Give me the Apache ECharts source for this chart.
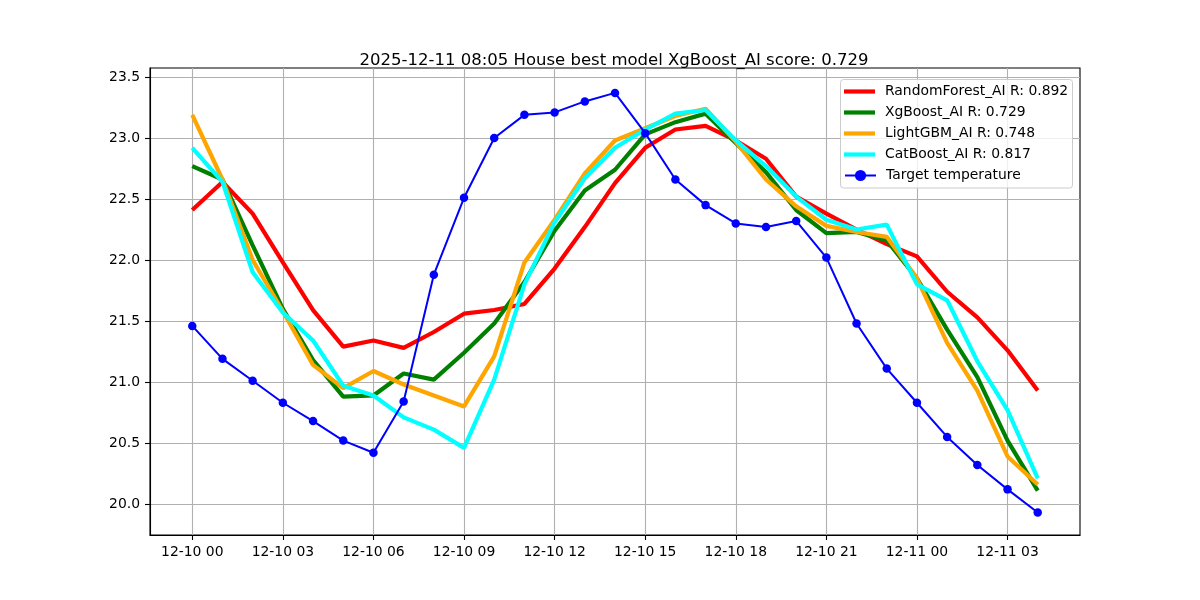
<!DOCTYPE html>
<html>
<head>
<meta charset="utf-8">
<script src="https://cdn.jsdelivr.net/npm/echarts@6/dist/echarts.min.js"></script>
<style>
html,body{margin:0;padding:0;background:#fff;}
#chart{width:1200px;height:600px;}
</style>
</head>
<body>
<div id="chart"></div>
<script>
var titleText = '2025-12-11 08:05 House best model XgBoost_AI score: 0.729';
var timeLabels = ['12-10 00','12-10 01','12-10 02','12-10 03','12-10 04','12-10 05','12-10 06','12-10 07','12-10 08','12-10 09','12-10 10','12-10 11','12-10 12','12-10 13','12-10 14','12-10 15','12-10 16','12-10 17','12-10 18','12-10 19','12-10 20','12-10 21','12-10 22','12-10 23','12-11 00','12-11 01','12-11 02','12-11 03','12-11 04'];
var xTickHours = [0,3,6,9,12,15,18,21,24,27];
var yTicks = [20.0,20.5,21.0,21.5,22.0,22.5,23.0,23.5];
var seriesNames = ['RandomForest_AI R: 0.892','XgBoost_AI R: 0.729','LightGBM_AI R: 0.748','CatBoost_AI R: 0.817','Target temperature'];
var randomForest = [22.41,22.64,22.38,21.98,21.59,21.29,21.34,21.28,21.41,21.56,21.59,21.64,21.93,22.27,22.63,22.92,23.07,23.10,22.98,22.83,22.52,22.38,22.25,22.13,22.03,21.74,21.53,21.26,20.93];
var xgBoost = [22.77,22.66,22.12,21.60,21.18,20.88,20.89,21.07,21.02,21.24,21.48,21.82,22.24,22.57,22.74,23.03,23.13,23.20,22.96,22.72,22.41,22.22,22.23,22.16,21.85,21.43,21.04,20.52,20.11];
var lightGBM = [23.19,22.66,22.00,21.58,21.14,20.95,21.09,20.98,20.89,20.80,21.21,21.98,22.33,22.71,22.98,23.08,23.18,23.24,22.97,22.66,22.44,22.28,22.23,22.19,21.85,21.32,20.93,20.39,20.16];
var catBoost = [22.92,22.64,21.90,21.57,21.34,20.97,20.89,20.71,20.61,20.46,21.02,21.80,22.31,22.67,22.92,23.07,23.20,23.23,22.98,22.77,22.52,22.33,22.25,22.29,21.80,21.67,21.17,20.77,20.21];
var target = [21.46,21.19,21.01,20.83,20.68,20.52,20.42,20.84,21.88,22.51,23.00,23.19,23.21,23.30,23.37,23.04,22.66,22.45,22.30,22.27,22.32,22.02,21.48,21.11,20.83,20.55,20.32,20.12,19.93];

function pairs(arr){ return arr.map(function(v,i){ return [i,v]; }); }
var FONT = 'DejaVu Sans';
var colors = ['#ff0000','#008000','#ffa500','#00ffff','#0000ff'];
var modelData = [randomForest, xgBoost, lightGBM, catBoost];

var series = modelData.map(function(d, k){
  return {
    name: seriesNames[k], type: 'line', data: pairs(d),
    symbol: 'none', showSymbol: false, animation: false,
    lineStyle: {color: colors[k], width: 4.2},
    itemStyle: {color: colors[k]}, z: 2 + k
  };
});
series.push({
  name: seriesNames[4], type: 'line', data: pairs(target),
  symbol: 'circle', symbolSize: 8.5, showSymbol: true, animation: false,
  lineStyle: {color: colors[4], width: 2},
  itemStyle: {color: colors[4]}, z: 10
});

var legendText = {fontFamily: FONT, fontSize: 13.9, color: '#000', lineHeight: 14, padding: [0,0,0,5]};

var chart = echarts.init(document.getElementById('chart'), null, {renderer: 'canvas'});
chart.setOption({
  animation: false,
  backgroundColor: '#ffffff',
  title: {
    text: titleText, left: 609, top: 47, textAlign: 'center',
    textStyle: {fontFamily: FONT, fontSize: 16.5, fontWeight: 'normal', color: '#000'}
  },
  graphic: [{
    type: 'rect', z: 90, silent: true,
    shape: {x: 840.5, y: 79.5, width: 232, height: 108.5, r: 3},
    style: {fill: 'rgba(255,255,255,0.8)', stroke: '#cccccc', lineWidth: 1}
  }],
  legend: [{
    orient: 'vertical', left: 844, top: 84.5, z: 100,
    itemWidth: 31, itemHeight: 4.2, itemGap: 7, padding: 0,
    icon: 'rect',
    textStyle: legendText,
    data: seriesNames.slice(0, 4)
  }, {
    orient: 'vertical', left: 844, top: 168.5, z: 100,
    itemWidth: 31, itemHeight: 14, itemGap: 7, padding: 0,
    textStyle: legendText,
    data: [seriesNames[4]]
  }],
  grid: {
    left: 150, right: 120, top: 68, bottom: 65,
    show: true, borderColor: '#000', borderWidth: 1.1, backgroundColor: 'transparent'
  },
  xAxis: {
    type: 'value', min: -1.4, max: 29.4, splitNumber: 10,
    axisLine: {show: true, onZero: false, lineStyle: {color: '#000', width: 1.1}},
    axisTick: {show: true, length: 5, lineStyle: {color: '#000', width: 1.1}, customValues: xTickHours},
    axisLabel: {
      customValues: xTickHours, margin: 10,
      fontFamily: FONT, fontSize: 13.9, color: '#000',
      formatter: function(v){ return timeLabels[Math.round(v)] || ''; }
    },
    splitLine: {show: true, lineStyle: {color: '#b0b0b0', width: 1.1}}
  },
  yAxis: {
    type: 'value', min: 19.746, max: 23.574, splitNumber: 8,
    axisLine: {show: true, onZero: false, lineStyle: {color: '#000', width: 1.1}},
    axisTick: {show: true, length: 5, lineStyle: {color: '#000', width: 1.1}, customValues: yTicks},
    axisLabel: {
      customValues: yTicks, margin: 10,
      fontFamily: FONT, fontSize: 13.9, color: '#000',
      formatter: function(v){ return v.toFixed(1); }
    },
    splitLine: {show: true, lineStyle: {color: '#b0b0b0', width: 1.1}}
  },
  series: series
});
</script>
</body>
</html>
